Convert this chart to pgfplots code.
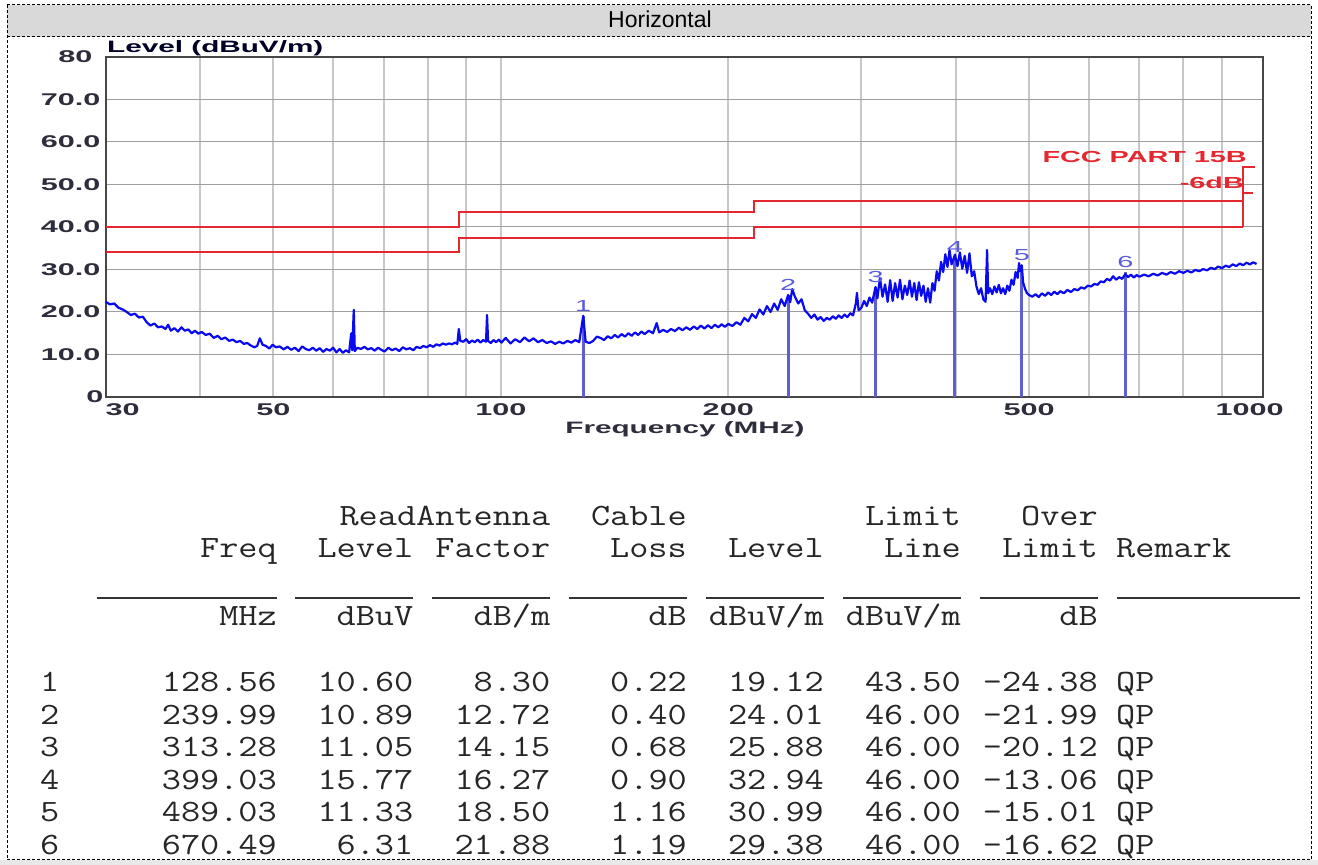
\documentclass[border=0pt]{standalone}
\usepackage{fontspec}
\setmainfont{Liberation Sans}
\newfontfamily\chartfont[FakeStretch=1.8]{Liberation Sans}
\newfontfamily\tblfont[FakeStretch=1.2]{Latin Modern Mono}
\usepackage{pgfplots}
\usepackage{pgfplotstable}
\pgfplotsset{compat=1.18}
\definecolor{trace}{RGB}{10,10,240}
\definecolor{mkline}{RGB}{95,95,210}
\definecolor{mklbl}{RGB}{90,90,220}
\definecolor{limred}{RGB}{228,40,50}
\definecolor{ticktxt}{RGB}{45,45,60}
\definecolor{hdrgray}{RGB}{217,217,217}

\pgfplotstableread{
f L
30.0 22.4
30.4 21.8
30.8 22.0
31.2 21.0
31.6 20.6
32.0 20.0
32.4 19.3
32.8 19.6
33.2 18.7
33.6 18.9
34.0 17.6
34.4 16.8
34.8 17.3
35.2 16.4
35.6 16.6
36.0 16.0
36.3 17.0
36.6 15.6
37.0 16.2
37.4 15.4
37.8 16.4
38.2 15.6
38.6 15.9
39.0 15.0
39.4 15.6
39.8 14.9
40.2 15.3
40.7 14.6
41.2 14.9
41.7 13.9
42.2 14.4
42.7 13.6
43.2 14.0
43.7 13.2
44.2 13.5
44.7 12.9
45.2 13.2
45.7 12.5
46.2 12.7
46.7 12.1
47.2 11.7
47.6 12.0
48.0 13.8
48.4 12.3
48.9 12.0
49.4 11.4
49.9 12.3
50.4 11.7
51.0 11.9
51.6 11.2
52.2 11.8
52.8 11.1
53.4 11.6
54.0 10.8
54.6 11.9
55.2 11.3
55.8 11.0
56.4 11.6
57.0 10.9
57.6 11.5
58.2 10.6
58.8 11.3
59.4 10.9
60.0 11.6
60.6 10.5
61.2 11.3
61.8 10.4
62.4 11.0
63.0 10.5
63.4 15.0
63.6 11.0
63.9 20.5
64.1 10.8
64.6 11.6
65.3 11.3
66.0 11.8
66.7 11.2
67.4 11.5
68.1 10.9
68.8 11.6
69.5 11.1
70.2 10.7
71.0 11.6
71.8 11.0
72.6 11.4
73.4 10.8
74.2 11.7
75.0 11.2
75.8 11.5
76.6 11.0
77.4 11.8
78.2 11.5
79.0 12.0
79.8 11.7
80.6 12.2
81.4 11.8
82.2 12.4
83.0 12.1
83.8 12.6
84.6 12.3
85.4 12.6
86.2 12.4
87.0 12.8
87.6 12.5
88.0 16.0
88.4 13.2
89.2 13.0
90.0 13.6
90.8 12.7
91.6 13.3
92.4 12.9
93.2 13.5
94.0 12.8
94.8 13.4
95.6 13.0
95.9 19.3
96.2 13.2
97.0 12.7
97.8 13.4
98.6 12.9
99.4 13.5
100.2 12.8
101.5 13.9
103 12.6
104.5 13.6
106 12.9
107.5 14.0
109 13.1
110.5 13.8
112 12.9
113.5 13.4
115 12.7
116.5 13.1
118 12.5
119.5 13.0
121 12.6
122.5 13.2
124 12.8
125.5 13.4
127 12.9
128.56 19.1
129.5 13.0
131 12.7
132.5 13.2
134 14.2
135.5 13.9
137 13.4
138.5 14.3
140 13.8
141.5 14.6
143 14.0
144.5 14.8
146 14.2
147.5 15.0
149 14.4
150.5 15.2
152 14.6
153.5 15.4
155 14.8
157 15.6
159 15.0
160.8 17.4
162 15.2
164 15.8
166 15.3
168 16.0
170 15.5
172 16.3
174 15.7
176 16.4
178 15.8
180 16.6
182 16.0
184 16.8
186 16.1
188 16.9
190 16.2
192 17.0
194 16.4
196 17.1
198 16.5
200 17.2
202.5 16.7
205 17.6
207.5 17.0
210 18.6
212.5 17.8
215 19.5
217.5 18.6
220 20.6
222.5 19.4
225 21.4
227.5 20.0
230 22.0
232.5 20.5
235 23.0
237.5 21.4
240 24.0
241.5 22.3
243 25.4
245 23.6
247.5 22.0
250 23.0
252.5 20.4
255 19.6
257.5 18.6
260 19.4
262.5 18.2
265 18.8
267.5 17.9
270 18.6
272.5 18.2
275 19.0
277.5 18.4
280 19.2
282.5 18.6
285 19.4
287.5 18.8
290 19.7
292.5 19.2
295 22.0
296 24.5
297.5 20.4
300 21.0
302.5 22.6
305 21.4
307.5 23.4
310 22.2
313.28 25.9
315 23.2
317.5 28.0
320 23.6
322.5 26.5
325 22.4
327.5 27.5
330 22.6
332.5 26.8
335 23.4
337.5 27.6
340 23.0
342.5 26.2
345 24.0
347.5 27.4
350 23.6
352.5 26.8
355 22.8
357.5 27.0
360 23.8
362.5 26.2
365 22.4
367.5 25.6
370 22.2
372.5 26.8
375 25.0
377.5 29.6
380 27.4
382.5 31.8
385 29.4
387.5 33.6
390 30.6
392.5 34.6
395 31.2
399.03 33.5
402 30.8
405 34.0
408 30.2
411 33.2
414 29.2
417 33.8
420 28.4
423 29.6
426 26.0
429 24.2
432 25.6
435 23.0
438 22.4
440 34.6
441.5 24.4
444 25.6
447 24.2
450 26.0
453 24.6
456 26.4
459 24.4
462 25.6
465 24.2
468 26.2
471 25.0
474 27.6
477 26.4
480 29.4
483 28.0
485 31.5
487 29.6
489.03 31.0
491 27.0
494 25.4
497 24.4
500 24.0
505 23.6
510 24.2
515 23.5
520 24.4
525 23.8
530 24.6
535 24.0
540 24.8
545 24.2
550 24.9
556 24.4
562 25.2
568 24.7
574 25.4
580 25.1
586 25.8
592 25.5
598 26.2
604 26.0
610 26.6
616 26.4
622 27.2
628 27.0
634 27.8
640 27.4
646 28.4
652 27.6
658 28.2
664 27.8
670.49 28.9
676 28.2
682 28.8
688 28.1
694 28.7
700 28.3
710 28.8
720 28.4
730 29.0
740 28.6
750 29.2
760 28.8
770 29.4
780 29.0
790 29.6
800 29.2
810 29.7
820 29.3
830 29.9
840 29.6
850 30.1
860 29.8
870 30.4
880 30.1
890 30.7
900 30.3
910 30.9
920 30.6
930 31.2
940 30.8
950 31.4
960 31.0
970 31.6
980 31.2
990 31.7
1000 31.3
}\spectrum

\newcommand\chartlbl{\chartfont\bfseries\fontsize{16.5}{17}\selectfont}
\newcommand\tbl{\tblfont\fontsize{31}{34}\selectfont}
\newcommand\RC[3]{\node[anchor=base east,inner sep=0pt,text=black!85] at (#1,#2) {\tbl #3};}
\newcommand\LC[3]{\node[anchor=base west,inner sep=0pt,text=black!85] at (#1,#2) {\tbl #3};}

\begin{document}
\begin{tikzpicture}[x=1pt,y=1pt]
\path[use as bounding box] (0,0) rectangle (1318,865);
\begin{scope}[shift={(0pt,865pt)},y=-1pt]
  \fill[gray!18] (0,860) rectangle (1318,865);
  \fill[hdrgray] (7,5) rectangle (1311,37);
  \draw[black, line width=1pt, dash pattern=on 3pt off 2pt] (7,5) rectangle (1311,860);
  \draw[black, line width=1pt, dash pattern=on 3pt off 2pt] (7,37) -- (1311,37);
  \node[anchor=base, inner sep=0pt] at (660,28) {\fontsize{23}{25}\selectfont Horizontal};
\end{scope}

\begin{axis}[
  at={(105.6pt,468pt)}, anchor=south west,
  scale only axis, width=1157.4pt, height=340pt,
  xmode=log, xmin=30, xmax=1020, ymin=0, ymax=80,
  axis line style={draw=black!72, line width=2pt},
  xtick={30,40,50,60,70,80,90,100,200,300,400,500,600,700,800,900},
  xticklabels={\rlap{30},,50,,,,,100,200,,,500,,,,},
  extra x ticks={1000}, extra x tick labels={1000},
  extra x tick style={grid=none, xticklabel style={xshift=-7pt}},
  ytick={0,10,20,30,40,50,60,70,80},
  yticklabels={0\hspace*{-3pt},10.0,20.0,30.0,40.0,50.0,60.0,70.0,80\hspace*{8pt}},
  major tick length=0pt, minor tick length=0pt,
  xmajorgrids, ymajorgrids,
  x grid style={black!22, line width=2pt},
  y grid style={black!38, line width=1pt},
  tick label style={font=\chartfont\bfseries\fontsize{17}{17}\selectfont, text=ticktxt},
  xticklabel style={inner sep=0pt, yshift=-6pt},
  yticklabel style={inner sep=0pt, xshift=-5pt},
  clip=false,
]
\addplot[color=limred, line width=2pt, mark=none] coordinates {(30,40) (88,40) (88,43.5) (216,43.5) (216,46) (960,46)};
\addplot[color=limred, line width=2pt, mark=none] coordinates {(30,34) (88,34) (88,37.5) (216,37.5) (216,40) (960,40)};
\addplot[ycomb, color=mkline, line width=3pt, mark=none,
  point meta=explicit symbolic, nodes near coords,
  every node near coord/.style={anchor=south, inner sep=1pt, yshift=2pt, text=mklbl,
     font=\chartfont\fontsize{16}{16}\selectfont}]
  coordinates {(128.56,19.12) [1] (239.99,24.01) [2] (313.28,25.88) [3] (399.03,32.94) [4] (489.03,30.99) [5] (670.49,29.38) [6]};
\addplot[color=trace, line width=2.2pt, mark=none, line join=round] table[x=f,y=L]{\spectrum};
\end{axis}

\begin{scope}[shift={(0pt,865pt)},y=-1pt]
  % axis titles
  \node[anchor=base west, inner sep=0pt, text=black!75!blue!60!black] at (107,53) {\chartlbl Level (dBuV/m)};
  \node[anchor=base, inner sep=0pt, text=ticktxt] at (685,434) {\chartlbl Frequency (MHz)};
  % limit annotation
  \draw[limred, line width=2pt] (1243.2,227) -- (1243.2,167) -- (1255,167);
  \draw[limred, line width=2pt] (1243.2,193) -- (1253,193);
  \node[anchor=base east, inner sep=0pt, text=limred] at (1247,163) {\chartfont\bfseries\fontsize{16}{16}\selectfont FCC PART 15B};
  \node[anchor=base east, inner sep=0pt, text=limred] at (1244,189) {\chartfont\bfseries\fontsize{16}{16}\selectfont -6dB};
  % table header
  \RC{550.5}{526}{ReadAntenna}
  \RC{687}{526}{Cable}
  \RC{961}{526}{Limit}
  \RC{1098}{526}{Over}
  \RC{277}{558}{Freq}
  \RC{413.5}{558}{Level}
  \RC{550.5}{558}{Factor}
  \RC{687}{558}{Loss}
  \RC{824}{558}{Level}
  \RC{961}{558}{Line}
  \RC{1098}{558}{Limit}
  \LC{1116}{558}{Remark}
  \foreach \a/\b in {97/277,295/413,432/550,569/687,706/824,843/961,980/1098,1117/1300}
    \draw[black!80, line width=1.6pt] (\a,598) -- (\b,598);
  \RC{277}{626}{MHz}
  \RC{413.5}{626}{dBuV}
  \RC{550.5}{626}{dB/m}
  \RC{687}{626}{dB}
  \RC{824}{626}{dBuV/m}
  \RC{961}{626}{dBuV/m}
  \RC{1098}{626}{dB}
  % table rows
  \foreach \n/\y/\fq/\rl/\af/\cl/\lv/\ll/\ol in {
     1/692/128.56/10.60/8.30/0.22/19.12/43.50/-24.38,
     2/724.5/239.99/10.89/12.72/0.40/24.01/46.00/-21.99,
     3/757/313.28/11.05/14.15/0.68/25.88/46.00/-20.12,
     4/790/399.03/15.77/16.27/0.90/32.94/46.00/-13.06,
     5/822/489.03/11.33/18.50/1.16/30.99/46.00/-15.01,
     6/855/670.49/6.31/21.88/1.19/29.38/46.00/-16.62} {
    \LC{40}{\y}{\n}
    \RC{277}{\y}{\fq}
    \RC{413.5}{\y}{\rl}
    \RC{550.5}{\y}{\af}
    \RC{687}{\y}{\cl}
    \RC{824}{\y}{\lv}
    \RC{961}{\y}{\ll}
    \RC{1098}{\y}{\ol}
    \LC{1116}{\y}{QP}
  }
\end{scope}
\end{tikzpicture}
\end{document}
